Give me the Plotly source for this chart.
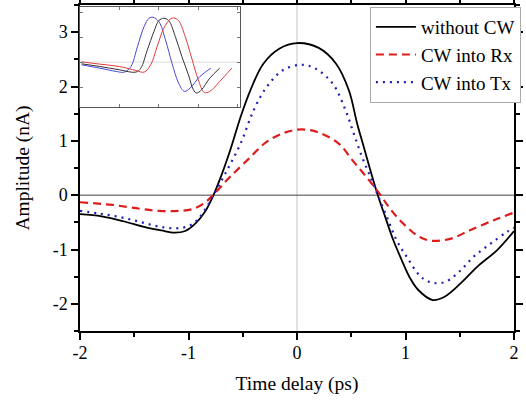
import plotly.graph_objects as go

# main curves: time delay (ps) vs amplitude (nA)
t_without = [-2.0, -1.8, -1.6, -1.4, -1.25, -1.13, -1.03, -0.94, -0.85, -0.77, -0.69, -0.615,
             -0.52, -0.43, -0.31, -0.16, 0.0, 0.2, 0.36, 0.478, 0.554, 0.615, 0.676, 0.745,
             0.813, 0.888, 0.964, 1.04, 1.12, 1.25, 1.36, 1.51, 1.66, 1.845, 2.0]
a_without = [-0.35, -0.39, -0.48, -0.59, -0.65, -0.69, -0.66, -0.53, -0.31, 0.0, 0.40, 0.83,
             1.44, 1.93, 2.42, 2.70, 2.80, 2.71, 2.42, 1.93, 1.32, 0.89, 0.46, 0.0,
             -0.40, -0.83, -1.19, -1.52, -1.75, -1.93, -1.87, -1.62, -1.32, -1.01, -0.66]

t_rx = [-2.0, -1.70, -1.45, -1.27, -1.09, -0.955, -0.85, -0.76, -0.63, -0.46, -0.28, -0.10,
        0.05, 0.205, 0.385, 0.508, 0.60, 0.69, 0.77, 0.843, 0.934, 1.025, 1.13, 1.24, 1.42,
        1.60, 1.815, 2.0]
a_rx = [-0.13, -0.18, -0.25, -0.29, -0.29, -0.25, -0.14, 0.03, 0.31, 0.64, 0.98, 1.16,
        1.21, 1.15, 0.95, 0.65, 0.43, 0.21, 0.0, -0.21, -0.43, -0.61, -0.77, -0.84, -0.80,
        -0.64, -0.46, -0.32]

t_tx = [-2.0, -1.82, -1.64, -1.45, -1.27, -1.12, -1.0, -0.92, -0.83, -0.77, -0.66, -0.52,
        -0.40, -0.28, -0.13, 0.04, 0.17, 0.33, 0.448, 0.524, 0.60, 0.676, 0.745, 0.828,
        0.918, 1.01, 1.13, 1.20, 1.27, 1.375, 1.51, 1.63, 1.785, 1.94, 2.0]
a_tx = [-0.29, -0.34, -0.40, -0.49, -0.58, -0.61, -0.57, -0.46, -0.21, 0.0, 0.40, 0.95,
        1.56, 1.99, 2.30, 2.40, 2.33, 2.05, 1.56, 1.13, 0.70, 0.34, 0.0, -0.40,
        -0.83, -1.13, -1.48, -1.58, -1.62, -1.59, -1.38, -1.13, -0.89, -0.67, -0.60]

# inset curves (arbitrary units)
ins_x_black = [0.17, 2.0, 4.0, 5.67, 6.17, 6.83, 7.5, 8.0, 8.5, 9.0, 9.67, 10.33, 11.0, 11.5,
               11.83, 12.33, 13.17, 14.17]
ins_y_black = [-0.1, -0.26, -0.46, -0.6, -0.36, 0.74, 1.84, 2.5, 2.64, 2.5, 1.54, 0.34, -0.76,
               -1.66, -1.86, -1.66, -0.96, -0.36]
ins_x_blue = [0.17, 2.0, 3.67, 4.5, 5.17, 5.83, 6.5, 7.0, 7.4, 8.0, 8.67, 9.33, 10.0, 10.6,
              11.17, 12.17, 13.27]
ins_y_blue = [-0.16, -0.36, -0.56, -0.6, -0.26, 0.94, 2.14, 2.64, 2.7, 2.44, 1.34, -0.06,
              -1.26, -1.76, -1.56, -0.86, -0.36]
ins_x_red = [0.17, 2.0, 4.0, 5.67, 6.5, 7.17, 7.83, 8.5, 9.17, 9.5, 10.0, 10.67, 11.33, 12.0,
             12.6, 13.17, 14.17, 15.4]
ins_y_red = [0.02, -0.12, -0.26, -0.5, -0.6, -0.16, 0.94, 2.04, 2.6, 2.66, 2.5, 1.54, 0.24,
             -1.06, -1.82, -1.76, -1.16, -0.36]

x_ticks = [-2, -1, 0, 1, 2]
x_labels = ["-2", "-1", "0", "1", "2"]
y_ticks = [-2, -1, 0, 1, 2, 3]
y_labels = ["-2", "-1", "0", "1", "2", "3"]

font_name = "Liberation Serif"

fig = go.Figure()

fig.add_trace(go.Scatter(x=t_without, y=a_without, mode="lines", name="without CW",
                         line=dict(color="black", width=1.8, shape="spline")))
fig.add_trace(go.Scatter(x=t_rx, y=a_rx, mode="lines", name="CW into Rx",
                         line=dict(color="#dd1c1c", width=2.2, dash="8px,5px", shape="spline")))
fig.add_trace(go.Scatter(x=t_tx, y=a_tx, mode="lines", name="CW into Tx",
                         line=dict(color="#1f1fb4", width=2.2, dash="2px,5px", shape="spline")))

# inset traces
fig.add_trace(go.Scatter(x=ins_x_blue, y=ins_y_blue, mode="lines", showlegend=False,
                         xaxis="x2", yaxis="y2",
                         line=dict(color="#4848dc", width=1, shape="spline")))
fig.add_trace(go.Scatter(x=ins_x_black, y=ins_y_black, mode="lines", showlegend=False,
                         xaxis="x2", yaxis="y2",
                         line=dict(color="#333333", width=1, shape="spline")))
fig.add_trace(go.Scatter(x=ins_x_red, y=ins_y_red, mode="lines", showlegend=False,
                         xaxis="x2", yaxis="y2",
                         line=dict(color="#e03c3c", width=1, shape="spline")))

# zero lines
fig.add_shape(type="line", xref="x", yref="paper", x0=0, x1=0, y0=0, y1=1,
              line=dict(color="#d8d8d8", width=1.5), layer="below")
fig.add_shape(type="line", xref="paper", yref="y", x0=0, x1=1, y0=0, y1=0,
              line=dict(color="#444444", width=1), layer="below")
fig.add_shape(type="line", xref="x2", yref="y2", x0=0, x1=16.2, y0=0, y1=0,
              line=dict(color="#dddddd", width=1), layer="below")

axis_common = dict(showgrid=False, zeroline=False, showline=True, linecolor="black",
                   linewidth=1.5, mirror="ticks", ticks="outside", ticklen=7, tickwidth=1.5,
                   tickcolor="black", automargin=False,
                   tickfont=dict(family=font_name, size=18, color="black"))

fig.update_layout(
    width=526, height=402,
    margin=dict(l=80, r=7, t=5, b=71),
    paper_bgcolor="white", plot_bgcolor="white",
    font=dict(family=font_name, size=18, color="black"),
    xaxis=dict(axis_common, range=[-2, 2], tickvals=x_ticks, ticktext=x_labels,
               ticklabelstandoff=-2,
               minor=dict(dtick=0.5, ticks="outside", ticklen=4, tickwidth=1.5, tickcolor="black"),
               title=dict(text="Time delay (ps)", font=dict(family=font_name, size=19.5), standoff=14)),
    yaxis=dict(axis_common, range=[-2.5, 3.5], tickvals=y_ticks, ticktext=y_labels,
               minor=dict(dtick=0.5, ticks="outside", ticklen=4, tickwidth=1.5, tickcolor="black"),
               title=dict(text="Amplitude (nA)", font=dict(family=font_name, size=19.5), standoff=18)),
    xaxis2=dict(domain=[0.0, 0.368], anchor="y2", range=[0, 16.2], showgrid=False,
                zeroline=False, showline=True, linecolor="#555555", linewidth=1, mirror="ticks",
                ticks="inside", ticklen=3, tickcolor="#777777", dtick=4, showticklabels=False),
    yaxis2=dict(domain=[0.687, 0.995], anchor="x2", range=[-2.7, 3.34], showgrid=False,
                zeroline=False, showline=True, linecolor="#555555", linewidth=1, mirror="ticks",
                ticks="inside", ticklen=3, tickcolor="#777777", dtick=1.5, showticklabels=False),
    legend=dict(x=0.668, y=0.994, xanchor="left", yanchor="top",
                bgcolor="white", bordercolor="#aaaaaa", borderwidth=1,
                font=dict(family=font_name, size=19), tracegroupgap=0,
                itemwidth=40),
)

# drop the browser's default page margin so the figure sits at the window corner
fig.write_html("out.html", config={"displayModeBar": False},
               post_script="document.body.style.margin='0';")
